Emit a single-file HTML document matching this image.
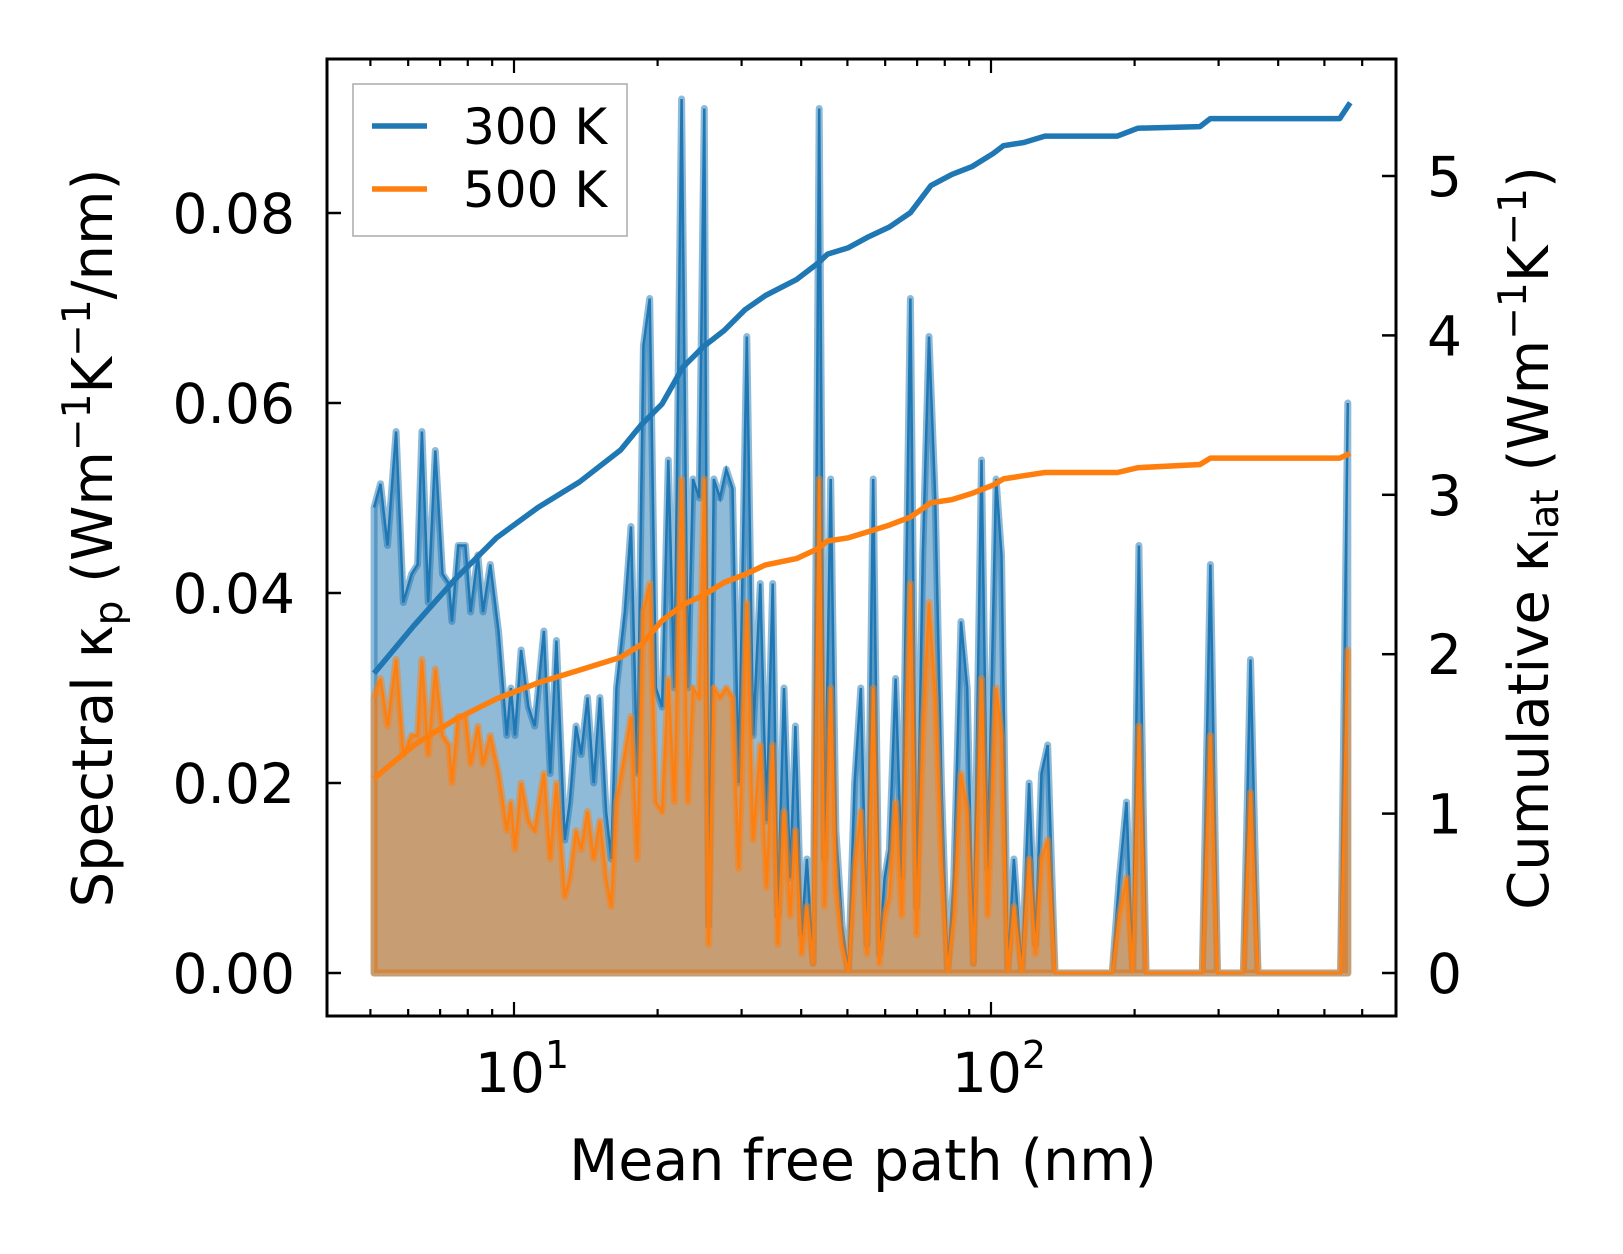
<!DOCTYPE html>
<html><head><meta charset="utf-8"><style>
html,body{margin:0;padding:0;background:#fff;}
svg{display:block;font-family:"DejaVu Sans","Liberation Sans",sans-serif;}
</style></head><body>
<svg id="chart" width="1623" height="1254" viewBox="0 0 1623 1254" xmlns="http://www.w3.org/2000/svg">
<rect width="1623" height="1254" fill="#fff"/>
<g id="plot"></g>
<g id="axes"></g>
</svg>
<script>
const mfp = [5.09,5.25,5.43,5.66,5.86,6.10,6.28,6.41,6.61,6.84,7.08,7.30,7.41,7.64,7.91,8.11,8.40,8.61,8.92,9.28,9.66,9.85,10.05,10.35,10.72,11.05,11.55,11.91,12.27,12.77,13.09,13.49,13.83,14.26,14.69,15.14,15.60,15.99,16.40,17.07,17.59,18.13,18.68,19.25,19.84,20.44,21.06,21.69,22.46,23.14,23.73,24.45,25.06,25.58,26.23,27.03,27.86,28.71,29.58,30.77,31.71,32.83,33.83,34.86,35.73,36.81,37.93,38.90,40.09,41.11,42.36,43.64,44.76,46.12,47.30,48.74,50.23,51.76,53.33,54.95,56.62,58.34,59.84,61.24,63.10,65.02,67.76,69.82,71.94,74.13,76.38,78.70,81.10,83.56,86.50,89.13,91.84,95.50,98.4,102.5,105.2,108.4,111.7,116.1,120.2,123.9,127.6,131.5,136.2,179.5,185.8,192.3,198.2,204.2,211.3,277.3,288.4,298.5,338.1,350.0,362.9,540.6,559.8];
const spec300 = [0.049,0.0515,0.045,0.057,0.039,0.042,0.043,0.057,0.039,0.055,0.042,0.041,0.037,0.045,0.045,0.038,0.044,0.038,0.043,0.036,0.025,0.030,0.025,0.034,0.028,0.026,0.036,0.021,0.035,0.014,0.018,0.026,0.023,0.029,0.020,0.029,0.017,0.012,0.030,0.038,0.047,0.021,0.066,0.071,0.030,0.028,0.054,0.030,0.092,0.030,0.052,0.050,0.091,0.005,0.052,0.050,0.053,0.051,0.020,0.067,0.025,0.041,0.016,0.041,0.006,0.030,0.010,0.026,0.004,0.012,0.001,0.091,0.012,0.052,0.015,0.005,0.0,0.020,0.030,0.003,0.052,0.002,0.010,0.013,0.031,0.010,0.071,0.007,0.044,0.067,0.050,0.020,0.0,0.010,0.037,0.030,0.001,0.054,0.011,0.052,0.044,0.0,0.012,0.0,0.020,0.003,0.021,0.024,0.0,0.0,0.010,0.018,0.0,0.045,0.0,0.0,0.043,0.0,0.0,0.033,0.0,0.0,0.060];
const spec500 = [0.029,0.031,0.026,0.033,0.023,0.025,0.025,0.033,0.023,0.032,0.025,0.024,0.020,0.027,0.027,0.022,0.026,0.022,0.025,0.021,0.015,0.018,0.013,0.020,0.016,0.015,0.021,0.012,0.020,0.008,0.010,0.015,0.013,0.017,0.012,0.016,0.010,0.007,0.018,0.023,0.027,0.012,0.038,0.041,0.018,0.017,0.031,0.018,0.052,0.018,0.030,0.029,0.052,0.003,0.030,0.029,0.030,0.029,0.011,0.039,0.014,0.024,0.009,0.024,0.003,0.017,0.006,0.015,0.002,0.007,0.001,0.052,0.007,0.030,0.009,0.003,0.0,0.011,0.017,0.002,0.030,0.001,0.006,0.008,0.018,0.006,0.041,0.004,0.025,0.039,0.029,0.012,0.0,0.006,0.021,0.017,0.001,0.031,0.006,0.030,0.025,0.0,0.007,0.0,0.012,0.002,0.012,0.014,0.0,0.0,0.006,0.010,0.0,0.026,0.0,0.0,0.025,0.0,0.0,0.019,0.0,0.0,0.034];
const cumMfp = [5.09,6.17,7.52,9.19,11.22,13.71,16.71,18.50,20.44,22.59,24.96,27.57,30.47,33.67,39.11,43.23,45.43,50.23,55.46,61.24,67.76,74.82,82.80,91.41,100.9,106.2,117.2,129.7,184.1,203.2,274.2,288.4,538.3,566.2];
const cum300 = [1.88,2.18,2.47,2.73,2.92,3.08,3.28,3.44,3.57,3.80,3.93,4.03,4.16,4.25,4.35,4.45,4.51,4.55,4.62,4.68,4.77,4.94,5.01,5.06,5.14,5.19,5.21,5.25,5.25,5.30,5.31,5.36,5.36,5.46];
const cum500 = [1.22,1.43,1.59,1.72,1.82,1.90,1.98,2.06,2.21,2.31,2.37,2.45,2.50,2.56,2.60,2.66,2.71,2.73,2.77,2.81,2.86,2.95,2.97,3.01,3.06,3.10,3.12,3.14,3.14,3.17,3.19,3.23,3.23,3.26];
const leftTicks = [0, 0.02, 0.04, 0.06, 0.08];
const leftTickLabels = ["0.00","0.02","0.04","0.06","0.08"];
const rightTicks = [0,1,2,3,4,5];
const rightTickLabels = ["0","1","2","3","4","5"];
const xMajor = [10, 100];
const xMajorExp = ["1","2"];

const L=327, R=1396, T=59, B=1016;
const NS="http://www.w3.org/2000/svg";
function X(v){ return 514 + (Math.log10(v)-1)*477; }
function Y(v){ return 973 - v*(973-213)/0.08; }
function Y2(v){ return 973 - v*(973-176)/5; }
function mk(tag, attrs, parent){ const e=document.createElementNS(NS,tag); for(const k in attrs) e.setAttribute(k,attrs[k]); parent.appendChild(e); return e; }
const plot=document.getElementById('plot'), axes=document.getElementById('axes');

function areaPath(ys){
  let d='M'+X(mfp[0]).toFixed(1)+','+Y(0).toFixed(1);
  for(let i=0;i<mfp.length;i++) d+='L'+X(mfp[i]).toFixed(1)+','+Y(ys[i]).toFixed(1);
  d+='L'+X(mfp[mfp.length-1]).toFixed(1)+','+Y(0).toFixed(1)+'Z';
  return d;
}
function linePath(xs, ys, yf){
  let d='';
  for(let i=0;i<xs.length;i++) d+=(i?'L':'M')+X(xs[i]).toFixed(1)+','+yf(ys[i]).toFixed(1);
  return d;
}
const a300=mk('path',{d:areaPath(spec300),fill:'rgba(31,119,180,0.5)',stroke:'rgba(31,119,180,0.5)','stroke-width':7,'stroke-linejoin':'round'},plot);


const l300=mk('path',{d:linePath(mfp,spec300,Y),fill:'none',stroke:'#1f77b4','stroke-width':2.5},plot);


const a500=mk('path',{d:areaPath(spec500),fill:'rgba(255,127,14,0.5)',stroke:'rgba(255,127,14,0.5)','stroke-width':7,'stroke-linejoin':'round'},plot);


const l500=mk('path',{d:linePath(mfp,spec500,Y),fill:'none',stroke:'#ff7f0e','stroke-width':2.5},plot);


const c300=mk('path',{d:linePath(cumMfp,cum300,Y2),fill:'none',stroke:'#1f77b4','stroke-width':5.5,'stroke-linejoin':'round'},plot);


const c500=mk('path',{d:linePath(cumMfp,cum500,Y2),fill:'none',stroke:'#ff7f0e','stroke-width':5.5,'stroke-linejoin':'round'},plot);



const fr=mk('rect',{x:L,y:T,width:R-L,height:B-T,fill:'none',stroke:'#000','stroke-width':3},axes);


leftTicks.forEach((v,i)=>{
  const y=Y(v);
  mk('line',{x1:L,x2:L+14,y1:y,y2:y,stroke:'#000','stroke-width':2.5},axes);
  const t=mk('text',{x:295,y:y+20,'font-size':55,'text-anchor':'end',fill:'#000'},axes);
  t.textContent=leftTickLabels[i];
  
  
});
rightTicks.forEach((v,i)=>{
  const y=Y2(v);
  mk('line',{x1:R-14,x2:R,y1:y,y2:y,stroke:'#000','stroke-width':2.5},axes);
  const t=mk('text',{x:1427,y:y+20,'font-size':55,'text-anchor':'start',fill:'#000'},axes);
  t.textContent=rightTickLabels[i];
  
  
});
for(let dec=1; dec<=100; dec*=10){
  for(let m=1;m<10;m++){
    const v=m*dec; if(v<4.5||v>650) continue;
    const x=X(v); const len=(m===1)?14:7;
    mk('line',{x1:x,x2:x,y1:B,y2:B-len,stroke:'#000','stroke-width':2.2},axes);
    mk('line',{x1:x,x2:x,y1:T,y2:T+len,stroke:'#000','stroke-width':2.2},axes);
  }
}
xMajor.forEach((v,i)=>{
  const t=mk('text',{x:X(v)+8,y:1092,'font-size':55,'text-anchor':'middle',fill:'#000'},axes);
  t.textContent='10';
  const s=mk('tspan',{dy:-24,'font-size':38},t); s.textContent=xMajorExp[i];
  
  
});
</script>
<svg style="position:absolute;left:0;top:0" width="1623" height="1254">
<g font-family="DejaVu Sans, Liberation Sans, sans-serif" fill="#000">
<text x="863" y="1180" font-size="57" text-anchor="middle">Mean free path (nm)</text>
<text transform="translate(112,538) rotate(-90)" font-size="56" text-anchor="middle">Spectral κ<tspan font-size="39" dy="10">p</tspan><tspan dy="-10"> (Wm</tspan><tspan font-size="39" dy="-22">−1</tspan><tspan dy="22">K</tspan><tspan font-size="39" dy="-22">−1</tspan><tspan dy="22">/nm)</tspan></text>
<text transform="translate(1548,538) rotate(-90)" font-size="56" text-anchor="middle">Cumulative κ<tspan font-size="39" dy="10">lat</tspan><tspan dy="-10"> (Wm</tspan><tspan font-size="39" dy="-22">−1</tspan><tspan dy="22">K</tspan><tspan font-size="39" dy="-22">−1</tspan><tspan dy="22">)</tspan></text>
<g>
<rect x="353" y="84" width="274" height="152" fill="#fff" fill-opacity="0.8" stroke="#aaa" stroke-width="1.5"/>
<line x1="372" x2="427" y1="126" y2="126" stroke="#1f77b4" stroke-width="5.5"/>
<text x="463" y="144" font-size="50">300 K</text>
<line x1="372" x2="427" y1="189" y2="189" stroke="#ff7f0e" stroke-width="5.5"/>
<text x="463" y="207" font-size="50">500 K</text>
</g>
</g>
</svg>
</body></html>
